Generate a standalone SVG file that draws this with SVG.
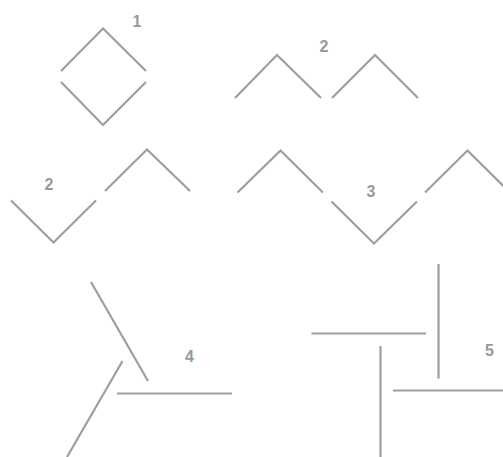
<svg xmlns="http://www.w3.org/2000/svg" width="503" height="457" viewBox="0 0 503 457">
<style>
.s{fill:none;stroke:#9e9e9e;stroke-width:2.2;stroke-linecap:butt;stroke-linejoin:miter}
.t{font-family:"Liberation Sans",Arial,sans-serif;font-size:16px;font-weight:bold;fill:#999;text-anchor:middle}
</style>
<rect width="503" height="457" fill="#fff"/>
<g id="fig1">
<polyline class="s" points="61,71 103,28.5 146,71"/>
<polyline class="s" points="61,82 103,125 146,82"/>
<text class="t" x="137" y="26.5">1</text>
</g>
<g id="fig2a">
<polyline class="s" points="235,98 277,55 321,98"/>
<polyline class="s" points="332,98 375,55 418,98"/>
<text class="t" x="324" y="52">2</text>
</g>
<g id="fig2b">
<polyline class="s" points="11,200.5 53.5,242.5 96,200.5"/>
<polyline class="s" points="105,191 147,149.5 190,191"/>
<text class="t" x="49" y="189.5">2</text>
</g>
<g id="fig3">
<polyline class="s" points="237.5,192.5 280.5,150.5 323,192.5"/>
<polyline class="s" points="331.5,201.5 374,243.5 417,201.5"/>
<polyline class="s" points="425,192.5 467.5,150.5 510,192.5"/>
<text class="t" x="371" y="196.5">3</text>
</g>
<g id="fig4">
<line class="s" x1="91" y1="282" x2="148" y2="381"/>
<line class="s" x1="122.5" y1="361" x2="67" y2="457"/>
<line class="s" x1="117" y1="393.5" x2="232" y2="393.5"/>
<text class="t" x="189.5" y="361.5">4</text>
</g>
<g id="fig5">
<line class="s" x1="438.5" y1="264" x2="438.5" y2="378.5"/>
<line class="s" x1="311.5" y1="333.5" x2="426" y2="333.5"/>
<line class="s" x1="380.5" y1="346" x2="380.5" y2="457"/>
<line class="s" x1="393" y1="390.5" x2="503" y2="390.5"/>
<text class="t" x="489.5" y="356">5</text>
</g>
</svg>
